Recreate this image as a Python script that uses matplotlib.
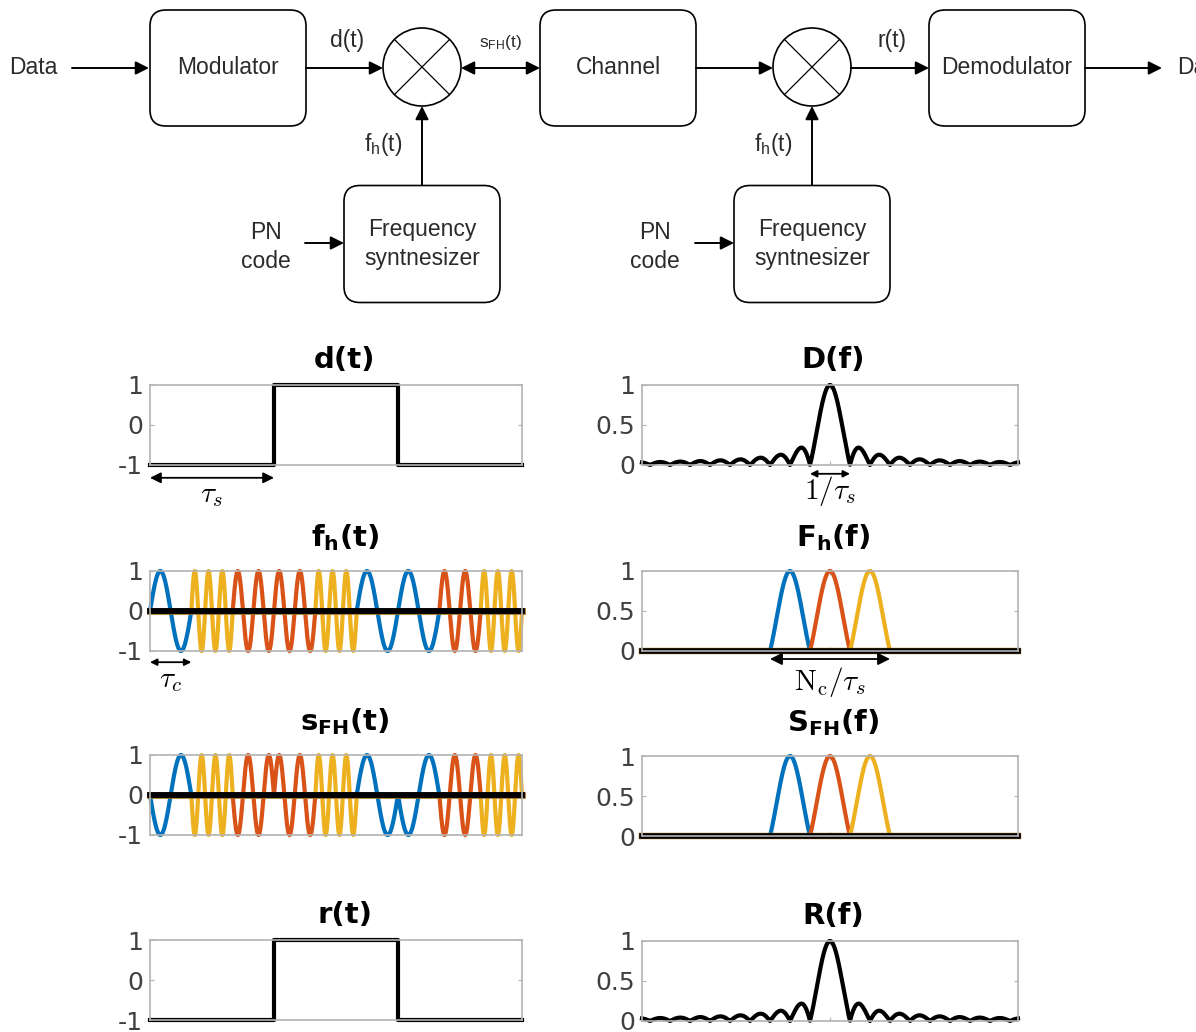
import numpy as np
import matplotlib.pyplot as plt
from matplotlib.patches import FancyBboxPatch, Circle

plt.rcParams['axes.unicode_minus'] = False
plt.rcParams['font.family'] = ['DejaVu Sans']

# ---- data ----
data_bits = [-1, 1, -1]          # d(t), one value per symbol
rx_bits = [-1, 1, -1]            # r(t) after de-hopping
chips_per_symbol = 3
hop_tones = [0, 2, 1, 1, 2, 0, 0, 1, 2]   # tone index used in each chip
tone_cycles = [1, 2, 3]          # carrier cycles per chip for each tone
tone_centres = [-2, 0, 2]        # spectral centre of each tone (units of 1/tau_s)
tone_colors = ['#0072BD', '#D95319', '#EDB120']
f_span = 9.4                     # half width of the frequency axis

W, H = 1196, 1032
fig = plt.figure(figsize=(W / 100, H / 100), dpi=100)

# ---- block diagram on a pixel-sized overlay ----
dg = fig.add_axes([0, 0, 1, 1])
dg.set_xlim(0, W)
dg.set_ylim(H, 0)
dg.axis('off')

dfont = dict(family=['Liberation Sans', 'DejaVu Sans'], color='#2b2b2b', fontsize=16.5)


def box(cx, cy, label, w=156, h=116):
    dg.add_patch(FancyBboxPatch((cx - w / 2, cy - h / 2), w, h,
                                boxstyle='round,pad=0,rounding_size=16',
                                fc='white', ec='black', lw=1.2))
    dg.text(cx, cy, label, ha='center', va='center', linespacing=1.28, **dfont)


def mixer(cx, cy, r=39):
    dg.add_patch(Circle((cx, cy), r, fill=False, ec='black', lw=1.2))
    k = r * np.cos(np.pi / 4)
    dg.plot([cx - k, cx + k], [cy - k, cy + k], color='black', lw=0.9)
    dg.plot([cx - k, cx + k], [cy + k, cy - k], color='black', lw=0.9)


def arrow(p0, p1, style='-|>'):
    dg.annotate('', xy=p1, xytext=p0,
                arrowprops=dict(arrowstyle=style, color='black', lw=1.4,
                                mutation_scale=20, shrinkA=0, shrinkB=0))


box(228, 68, 'Modulator')
box(618, 68, 'Channel')
box(1007, 68, 'Demodulator')
box(422, 244, 'Frequency\nsyntnesizer', h=117)
box(812, 244, 'Frequency\nsyntnesizer', h=117)
mixer(422, 67)
mixer(812, 67)

arrow((72, 68), (149, 68))
arrow((306, 68), (383, 68))
arrow((461, 68), (540, 68), '<|-|>')
arrow((696, 68), (773, 68))
arrow((851, 68), (929, 68))
arrow((1085, 68), (1162, 68))
arrow((422, 185), (422, 106))
arrow((812, 185), (812, 106))
arrow((305, 243), (344, 243))
arrow((695, 243), (734, 243))

dg.text(33, 68, 'Data', ha='center', va='center', **dfont)
dg.text(1177, 68, 'Data', ha='left', va='center', **dfont)
dg.text(347, 40, 'd(t)', ha='center', va='center', **dfont)
dg.text(892, 40, 'r(t)', ha='center', va='center', **dfont)
dg.text(500, 42, r'$\mathregular{s_{FH}(t)}$', ha='center', va='center',
        **{**dfont, 'fontsize': 12.5})
for x in (383, 773):
    dg.text(x, 145, r'$\mathregular{f_h(t)}$', ha='center', va='center', **dfont)
for x in (266, 655):
    dg.text(x, 247, 'PN\ncode', ha='center', va='center', linespacing=1.28, **dfont)

# ---- signals ----
n_sym = len(data_bits)
n_chips = len(hop_tones)
t = np.linspace(0, n_sym, 4501)
chip = np.minimum((t * chips_per_symbol).astype(int), n_chips - 1)
sym = np.minimum(t.astype(int), n_sym - 1)
frac = t * chips_per_symbol - chip
tone = np.array(hop_tones)[chip]
carrier = np.sin(2 * np.pi * np.array(tone_cycles)[tone] * frac)
d_t = np.array(data_bits)[sym]

f = np.linspace(-f_span, f_span, 3001)
D_f = np.abs(np.sinc(f))
R_f = np.abs(np.sinc(f))

spine_c = '#b3b3b3'
tick_c = '#404040'


def make_axes(x0, x1, ytop, ybot):
    ax = fig.add_axes([x0 / W, 1 - ybot / H, (x1 - x0) / W, (ybot - ytop) / H])
    for s in ax.spines.values():
        s.set_color(spine_c)
        s.set_linewidth(1.2)
    ax.tick_params(direction='in', length=3, color=spine_c, labelcolor=tick_c,
                   labelsize=18, right=True, top=True, pad=5)
    return ax


def title(ax, txt, x, pad):
    ax.set_title(txt, fontsize=21, fontweight='bold', pad=pad, color='black',
                 x=x, math_fontfamily='dejavusans')


def span_arrow(ax, xa, xb, ya, label, yl, ms=11):
    ax.annotate('', xy=(xb, ya), xytext=(xa, ya), xycoords=('data', 'axes fraction'),
                textcoords=('data', 'axes fraction'), annotation_clip=False,
                arrowprops=dict(arrowstyle='<|-|>', color='black', lw=1.3,
                                mutation_scale=ms, shrinkA=0, shrinkB=0))
    ax.text((xa + xb) / 2, yl, label, transform=ax.get_xaxis_transform(),
            ha='center', va='center', fontsize=21, math_fontfamily='cm')


def time_axes(ytop):
    ax = make_axes(150, 522, ytop, ytop + 80)
    ax.set_xlim(0, n_sym)
    ax.set_ylim(-1, 1)
    ax.set_yticks([-1, 0, 1])
    ax.set_yticklabels(['-1', '0', '1'])
    ax.set_xticks([])
    return ax


def freq_axes(ytop):
    ax = make_axes(642, 1018, ytop, ytop + 80)
    ax.set_xlim(-f_span, f_span)
    ax.set_ylim(0, 1)
    ax.set_yticks([0, 0.5, 1])
    ax.set_yticklabels(['0', '0.5', '1'])
    ax.set_xticks([0])
    ax.set_xticklabels([])
    return ax


def hopped(ax, wave):
    for k, c in enumerate(tone_colors):
        ax.plot(t, np.where(tone == k, wave, 0), color=c, lw=3.0, clip_on=False)
    ax.plot([0, n_sym], [0, 0], color='#a07020', lw=4.8, clip_on=False)
    ax.plot([0, n_sym], [0, 0], color='black', lw=4.2, clip_on=False)


def lobes(ax):
    for c, fc in zip(tone_colors, tone_centres):
        ax.plot(f, np.where(np.abs(f - fc) <= 1, np.sinc(f - fc), 0), color=c,
                lw=3.0, clip_on=False)
    ax.plot([-f_span, f_span], [0, 0], color='#a07020', lw=4.6, clip_on=False)
    ax.plot([-f_span, f_span], [0, 0], color='black', lw=4.0, clip_on=False)


LX, RX = 0.524, 0.508

# d(t)
ax = time_axes(385)
ax.step(np.arange(n_sym + 1), data_bits + data_bits[-1:], where='post',
        color='black', lw=3.0, clip_on=False)
title(ax, 'd(t)', LX, 12)
span_arrow(ax, 0, 1, -0.16, r'$\tau_s$', -0.38, ms=16)

# D(f)
ax = freq_axes(385)
ax.plot(f, D_f, color='black', lw=3.0, clip_on=False)
title(ax, 'D(f)', RX, 12)
span_arrow(ax, -1, 1, -0.11, r'$1/\tau_s$', -0.33, ms=10)

# f_h(t)
ax = time_axes(571)
hopped(ax, carrier)
title(ax, r'$\mathbf{f_h(t)}$', LX, 18)
span_arrow(ax, 0, 1 / chips_per_symbol, -0.14, r'$\tau_c$', -0.36, ms=10)

# F_h(f)
ax = freq_axes(571)
lobes(ax)
title(ax, r'$\mathbf{F_h(f)}$', RX, 18)
span_arrow(ax, tone_centres[0] - 1, tone_centres[-1] + 1, -0.10,
           r'$\mathrm{N_c}/\tau_s$', -0.39, ms=18)

# s_FH(t)
ax = time_axes(755)
hopped(ax, d_t * carrier)
title(ax, r'$\mathbf{s_{FH}(t)}$', LX, 18)

# S_FH(f)
ax = freq_axes(756)
lobes(ax)
title(ax, r'$\mathbf{S_{FH}(f)}$', RX, 18)

# r(t)
ax = time_axes(940)
ax.step(np.arange(n_sym + 1), rx_bits + rx_bits[-1:], where='post',
        color='black', lw=3.0, clip_on=False)
title(ax, 'r(t)', LX, 12)

# R(f)
ax = freq_axes(941)
ax.plot(f, R_f, color='black', lw=3.0, clip_on=False)
title(ax, 'R(f)', RX, 12)

fig.savefig('out.png', dpi=100)
